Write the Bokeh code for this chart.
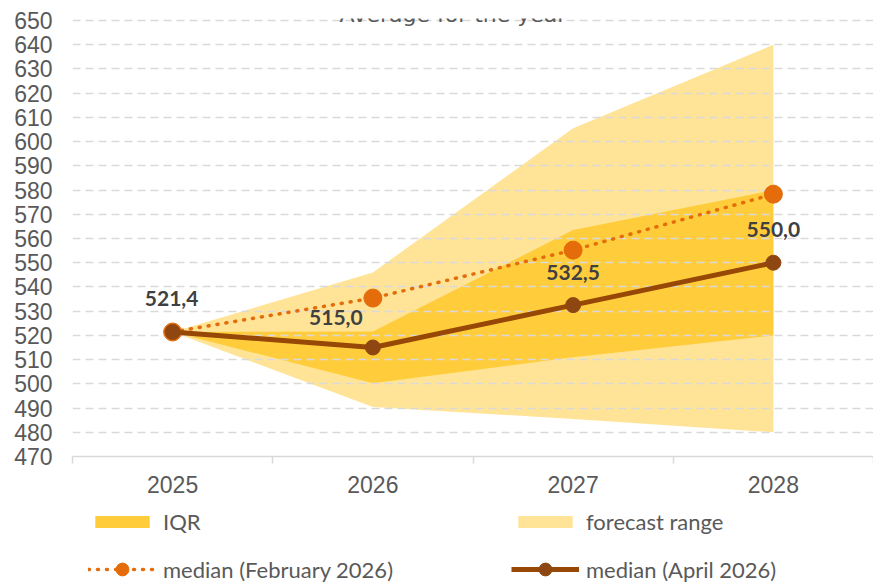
from bokeh.plotting import figure
from bokeh.layouts import column
from bokeh.models import (ColumnDataSource, FixedTicker, Legend, LegendItem,
                          Label, Range1d)
from bokeh.core.properties import value
from bokeh.embed import file_html
from bokeh.resources import INLINE

# ---------------- data ----------------
years = [2025, 2026, 2027, 2028]
year_labels = ["2025", "2026", "2027", "2028"]
median_april = [521.4, 515.0, 532.5, 550.0]
median_feb = [521.4, 535.4, 555.2, 578.3]
iqr_low = [521.4, 500.2, 511.0, 520.0]
iqr_high = [521.4, 521.6, 563.5, 580.0]
range_low = [521.4, 490.4, 485.5, 480.0]
range_high = [521.4, 546.0, 605.5, 640.0]
y_ticks = list(range(470, 651, 10))
title_text = "Average for the year"
series_names = ["IQR", "forecast range", "median (February 2026)", "median (April 2026)"]

# ---------------- styles ----------------
TXT = "#595959"
GRID = "#d9d9d9"
C_IQR = "#FFCD3C"
C_RANGE = "#FFE498"
C_FEB = "#E46C0A"
C_APR = "#974806"
C_APR_MK = "#8E4710"
W = 873

# ---------------- main chart ----------------
p = figure(width=W, height=505, output_backend="svg", toolbar_location=None,
           x_range=Range1d(years[0] - 0.5, years[-1] + 0.5),
           y_range=Range1d(y_ticks[0], y_ticks[-1] + 0.83),
           min_border_left=72, min_border_right=0, min_border_top=18,
           min_border_bottom=49)
p.outline_line_color = None

range_r = p.varea(x=years, y1=range_low, y2=range_high, fill_color=C_RANGE,
                  level="image")
iqr_r = p.varea(x=years, y1=iqr_low, y2=iqr_high, fill_color=C_IQR,
                level="image")

p.line(years, median_feb, line_color=C_FEB, line_width=3.5,
       line_dash="1 8", line_cap="round")
p.scatter(years, median_feb, size=18, fill_color=C_FEB, line_color=C_FEB)
p.line(years, median_april, line_color=C_APR, line_width=5)
p.scatter(years, median_april, size=15, fill_color=C_APR_MK, line_color=C_APR_MK)

lab_src = ColumnDataSource(dict(
    x=years, y=median_april,
    t=[f"{v:.1f}".replace(".", ",") for v in median_april],
    dx=[-1, -37, 0, 0], dy=[-34, -30, -33, -33]))
p.text(x="x", y="y", text="t", x_offset="dx", y_offset="dy", source=lab_src,
       text_font=value("Lato"), text_font_style="bold", text_font_size="21px",
       text_color="#404040", text_align="center", text_baseline="middle")

# title (sits in the top border, partly cut like the original)
p.add_layout(Label(x=2026.4, y=652.5, text=title_text, text_font="DejaVu Sans",
                   text_font_size="22px", text_color=TXT, text_align="center",
                   text_baseline="alphabetic"))

p.xaxis.ticker = FixedTicker(ticks=years,
                             minor_ticks=[y - 0.5 for y in years] + [years[-1] + 0.5])
p.xaxis.major_label_overrides = {y: l for y, l in zip(years, year_labels)}
p.xaxis.axis_line_color = GRID
p.xaxis.axis_line_width = 1.5
p.xaxis.major_tick_in = 0
p.xaxis.major_tick_out = 0
p.xaxis.minor_tick_in = 0
p.xaxis.minor_tick_out = 7
p.xaxis.minor_tick_line_color = GRID
p.xaxis.minor_tick_line_width = 1.5
p.xaxis.major_label_standoff = 12
p.xaxis.major_label_text_font = "Liberation Sans"
p.xaxis.major_label_text_font_size = "23px"
p.xaxis.major_label_text_color = TXT

p.yaxis.ticker = FixedTicker(ticks=y_ticks)
p.yaxis.axis_line_color = None
p.yaxis.major_tick_line_color = None
p.yaxis.minor_tick_line_color = None
p.yaxis.major_tick_out = 0
p.yaxis.major_tick_in = 0
p.yaxis.minor_tick_out = 0
p.yaxis.minor_tick_in = 0
p.yaxis.major_label_standoff = 20
p.yaxis.major_label_text_font = "Liberation Sans"
p.yaxis.major_label_text_font_size = "23px"
p.yaxis.major_label_text_color = TXT

p.xgrid.grid_line_color = None
p.ygrid.ticker = FixedTicker(ticks=y_ticks[1:])
p.ygrid.grid_line_color = GRID
p.ygrid.grid_line_width = 1.5
p.ygrid.grid_line_dash = "8 5"
p.ygrid.level = "underlay"

# ---------------- legend strip ----------------
pl = figure(width=W, height=77, output_backend="svg", toolbar_location=None,
            x_range=Range1d(0, 1), y_range=Range1d(0, 1),
            x_axis_location=None, y_axis_location=None,
            min_border_left=72, min_border_right=0, min_border_top=0,
            min_border_bottom=0)
pl.outline_line_color = None
pl.xgrid.visible = False
pl.ygrid.visible = False
# legend proxies: same series, lying outside this strip's ranges (not visible)
lg_iqr = pl.varea(x=years, y1=iqr_low, y2=iqr_high, fill_color=C_IQR)
lg_rng = pl.varea(x=years, y1=range_low, y2=range_high, fill_color=C_RANGE)
lg_feb_l = pl.line(years, median_feb, line_color=C_FEB, line_width=3.5,
                   line_dash="1 8", line_cap="round")
lg_feb_m = pl.scatter(years, median_feb, fill_color=C_FEB, line_color=C_FEB)
lg_apr_l = pl.line(years, median_april, line_color=C_APR, line_width=5)
lg_apr_m = pl.scatter(years, median_april, fill_color=C_APR_MK, line_color=C_APR_MK)

def style_legend(lg, gh):
    lg.glyph_width = 68
    lg.glyph_height = gh
    lg.label_standoff = 7
    lg.label_width = 348
    lg.label_height = 20
    lg.spacing = 0
    lg.padding = 0
    lg.margin = 0
    lg.border_line_color = None
    lg.background_fill_alpha = 0
    lg.label_text_font = "Lato"
    lg.label_text_font_size = "22px"
    lg.label_text_color = TXT
    lg.orientation = "horizontal"

leg_a = Legend(items=[LegendItem(label=series_names[0], renderers=[lg_iqr]),
                      LegendItem(label=series_names[1], renderers=[lg_rng])],
               location=(16, 47))
style_legend(leg_a, 15)
leg_b = Legend(items=[LegendItem(label=series_names[2], renderers=[lg_feb_l, lg_feb_m]),
                      LegendItem(label=series_names[3], renderers=[lg_apr_l, lg_apr_m])],
               location=(16, -3))
style_legend(leg_b, 32)
pl.add_layout(leg_a, "center")
pl.add_layout(leg_b, "center")

open("out.html", "w").write(file_html(column(p, pl, spacing=0), INLINE))
